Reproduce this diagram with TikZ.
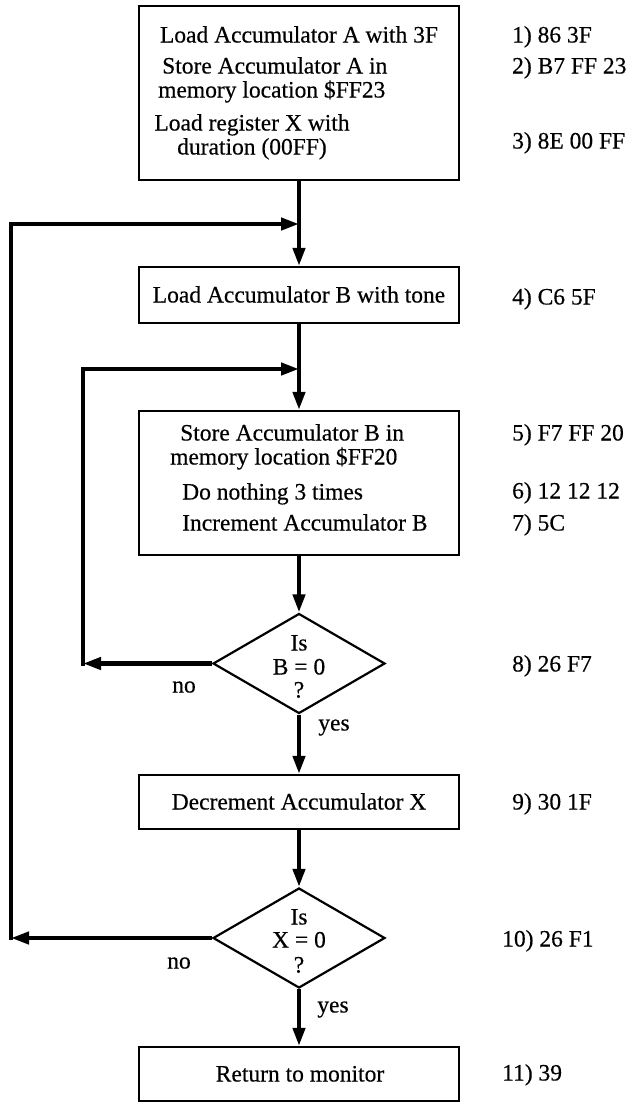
\documentclass[tikz,border=0pt]{standalone}
\usepackage{fontspec}
\setmainfont{Liberation Serif}[FakeBold=0.4]
\usetikzlibrary{arrows.meta,shapes.geometric}
\begin{document}
\begin{tikzpicture}[x=1pt,y=-1pt,
  flowbox/.style={draw, line width=2.2pt, rectangle, inner sep=0pt, minimum width=320pt},
  decbox/.style={draw, line width=2.2pt, diamond, inner sep=0pt, minimum width=172pt, minimum height=100pt},
  ftxt/.style={font=\fontsize{23.5}{23.5}\selectfont, inner sep=0pt, text height=15pt, text depth=0pt},
  codelbl/.style={ftxt, anchor=west},
  flowarrow/.style={line width=4.2pt, -{Triangle[length=18pt,width=12pt]}},
  flowline/.style={line width=4.2pt, line cap=rect},
]
\useasboundingbox (0,0) rectangle (631,1104);

% boxes
\node[flowbox, minimum height=174pt] (b1) at (299,93) {};
\node[flowbox, minimum height=56pt] (b2) at (299,295) {};
\node[flowbox, minimum height=144pt] (b3) at (299,483) {};
\node[decbox] (d1) at (299,663.5) {};
\node[flowbox, minimum height=54pt] (b4) at (299,802) {};
\node[decbox] (d2) at (299,938) {};
\node[flowbox, minimum height=54pt] (b5) at (299,1074) {};

% box texts
\node[ftxt] (t1a) at (299,35) {Load Accumulator A with 3F};
\node[ftxt, anchor=west] (t1b) at (162,66) {Store Accumulator A in};
\node[ftxt, anchor=west] (t1c) at (158,90) {memory location \$FF23};
\node[ftxt] (t1d) at (252,123) {Load register X with};
\node[ftxt] (t1e) at (252,147) {duration (00FF)};

\node[ftxt] (t2) at (299,295) {Load Accumulator B with tone};

\node[ftxt, anchor=west] (t3a) at (180,433) {Store Accumulator B in};
\node[ftxt, anchor=west] (t3b) at (170,457) {memory location \$FF20};
\node[ftxt, anchor=west] (t3c) at (182,492) {Do nothing 3 times};
\node[ftxt, anchor=west] (t3d) at (182,523) {Increment Accumulator B};

\node[ftxt] (d1a) at (299,643) {Is};
\node[ftxt] (d1b) at (299,667) {B = 0};
\node[ftxt] (d1c) at (299,690) {?};

\node[ftxt] (t4) at (299,802) {Decrement Accumulator X};

\node[ftxt] (d2a) at (299,917) {Is};
\node[ftxt] (d2b) at (299,940) {X = 0};
\node[ftxt] (d2c) at (299,965) {?};

\node[ftxt] (t5) at (300,1074) {Return to monitor};

% yes / no
\node[ftxt] (no1) at (184,685) {no};
\node[ftxt] (yes1) at (334,723) {yes};
\node[ftxt] (no2) at (179,961) {no};
\node[ftxt] (yes2) at (333,1005) {yes};

% code labels
\node[codelbl] (c1) at (512,35) {1) 86 3F};
\node[codelbl] (c2) at (512,66) {2) B7 FF 23};
\node[codelbl] (c3) at (512,141) {3) 8E 00 FF};
\node[codelbl] (c4) at (512,297) {4) C6 5F};
\node[codelbl] (c5) at (512,433) {5) F7 FF 20};
\node[codelbl] (c6) at (512,491) {6) 12 12 12};
\node[codelbl] (c7) at (512,523) {7) 5C};
\node[codelbl] (c8) at (512,664) {8) 26 F7};
\node[codelbl] (c9) at (512,802) {9) 30 1F};
\node[codelbl] (c10) at (502,939) {10) 26 F1};
\node[codelbl] (c11) at (502,1073) {11) 39};

% junction and corner points
\coordinate (j1) at (299,224);
\coordinate (k1) at (11,938);
\coordinate (k2) at (11,224);
\coordinate (j2) at (299,369);
\coordinate (k3) at (83,663.5);
\coordinate (k4) at (83,369);

% main flow
\draw[flowarrow] (b1.south) -- (b2.north);
\draw[flowarrow] (b2.south) -- (b3.north);
\draw[flowarrow] (b3.south) -- (d1.north);
\draw[flowarrow] (d1.south) -- (b4.north);
\draw[flowarrow] (b4.south) -- (d2.north);
\draw[flowarrow] (d2.south) -- (b5.north);

% inner loop
\draw[flowarrow] (d1.west) -- (k3);
\draw[flowline] (k3) -- (k4);
\draw[flowarrow] (k4) -- (j2);

% outer loop
\draw[flowarrow] (d2.west) -- (k1);
\draw[flowline] (k1) -- (k2);
\draw[flowarrow] (k2) -- (j1);
\end{tikzpicture}
\end{document}
